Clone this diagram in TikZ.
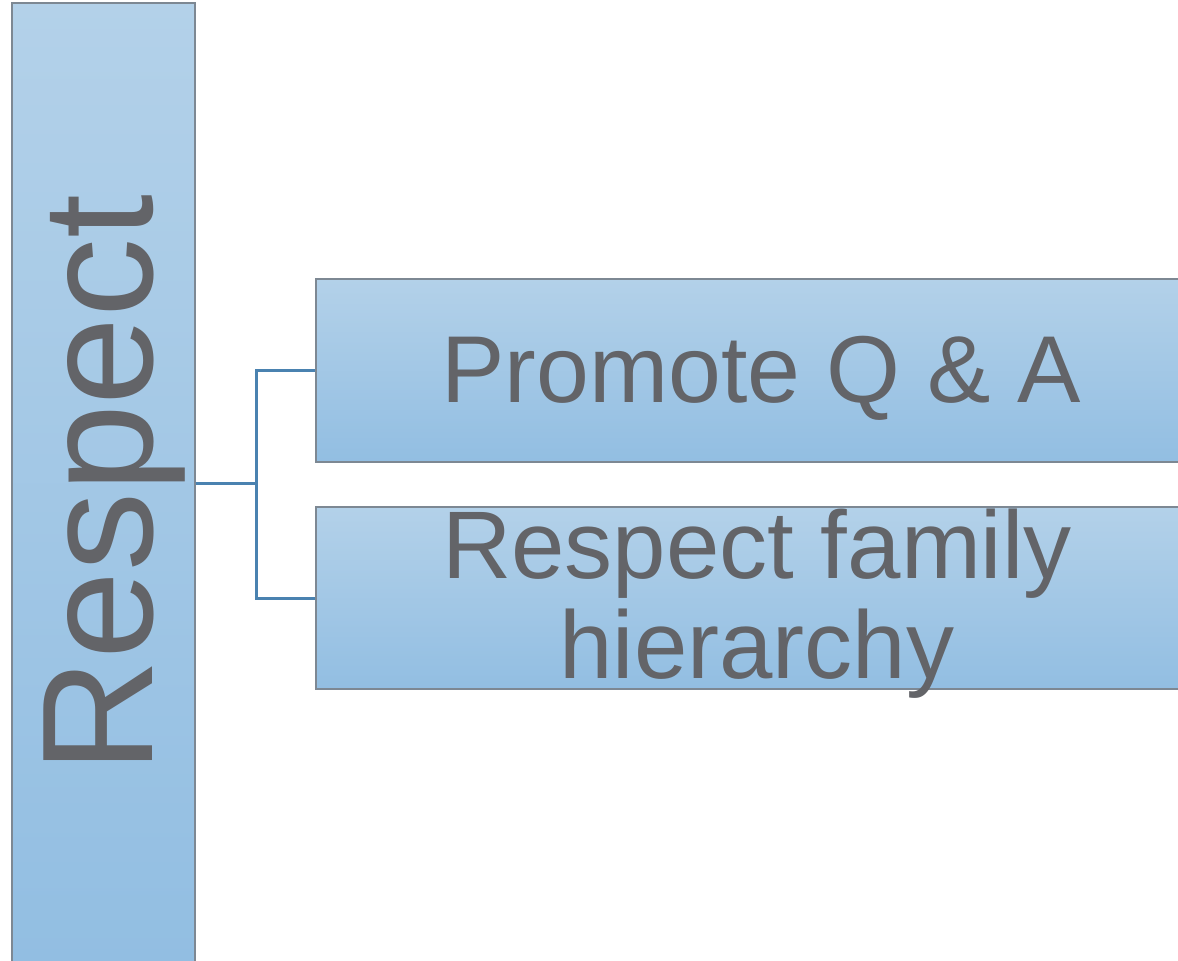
\documentclass[tikz,border=0pt]{standalone}
\usepackage{fontspec}
\setmainfont{Liberation Sans}
\definecolor{boxtop}{HTML}{B3D1E9}
\definecolor{boxbot}{HTML}{92BEE2}
\definecolor{boxline}{HTML}{7D8893}
\definecolor{inktext}{HTML}{636468}
\definecolor{linkblue}{HTML}{4A82B0}
\begin{document}
\begin{tikzpicture}[x=1pt,y=-1pt,
  panel/.style={rectangle, draw=boxline, line width=1.3pt, inner sep=0pt,
    top color=boxtop, bottom color=boxbot, shading angle=0},
  label/.style={text=inktext, inner sep=0pt},
  link/.style={draw=linkblue, line width=3pt}]
\useasboundingbox (0,0) rectangle (1178,961);
\clip (0,0) rectangle (1178,961);
% left column panel
\node[panel, minimum width=183pt, minimum height=960pt] (rbox) at (103.5,483) {};
\node[label, rotate=90, anchor=base, font=\fontsize{158}{158}\selectfont] (rtext) at (152,484) {Respect};
% right panels
\node[panel, minimum width=880pt, minimum height=183pt] (q) at (756,370.5) {};
\node[label, anchor=base, font=\fontsize{95}{100}\selectfont] (qtext) at (761,402) {Promote Q \& A};
\node[panel, minimum width=880pt, minimum height=182pt] (fam) at (756,598) {};
\node[label, anchor=base, align=center, font=\fontsize{96}{100}\selectfont] (famtext) at (757,678) {Respect family\\hierarchy};
% connectors
\coordinate (split) at (256,483);
\draw[link] (rbox.east) -- (split) |- (q.west);
\draw[link] (split) |- (fam.west);
\end{tikzpicture}
\end{document}
